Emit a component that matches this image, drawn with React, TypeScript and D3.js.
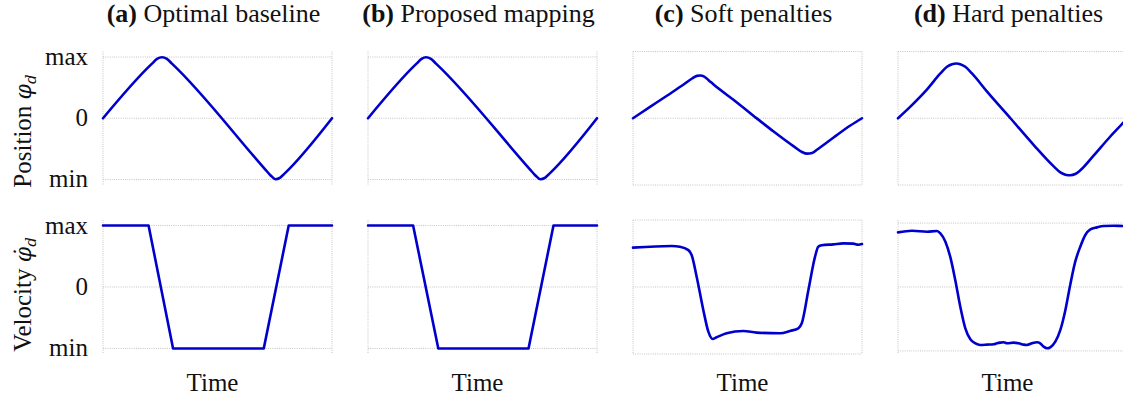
import React from "react";
import * as d3 from "d3";

// ---------- data (normalised: max = 1, min = -1, time 0..1) ----------
const titleTags = ["(a)", "(b)", "(c)", "(d)"];
const titleTexts = ["Optimal baseline", "Proposed mapping", "Soft penalties", "Hard penalties"];
const yTickValues = [1, 0, -1];
const yTickLabels = ["max", "0", "min"];
const xLabel = "Time";

type Pt = [number, number];

const posA: Pt[] = [
  [0, 0], [0.214, 0.892], [0.236, 0.968], [0.258, 0.995], [0.279, 0.968], [0.301, 0.892],
  [0.709, -0.838], [0.731, -0.93], [0.753, -0.995], [0.774, -0.968], [0.796, -0.892], [1, 0],
];
const velA: Pt[] = [
  [0, 1], [0.199, 1], [0.306, -1], [0.702, -1], [0.811, 1], [1, 1],
];
const posB: Pt[] = [
  [0, 0], [0.212, 0.892], [0.234, 0.968], [0.253, 0.995], [0.275, 0.968], [0.297, 0.892],
  [0.708, -0.838], [0.73, -0.93], [0.752, -0.995], [0.774, -0.968], [0.796, -0.892], [1, 0],
];
const velB: Pt[] = [
  [0, 1], [0.197, 1], [0.307, -1], [0.701, -1], [0.81, 1], [1, 1],
];
const posC: Pt[] = [
  [0, 0], [0.076, 0.189], [0.148, 0.368], [0.221, 0.551], [0.258, 0.649], [0.279, 0.692],
  [0.294, 0.697], [0.311, 0.681], [0.33, 0.622], [0.352, 0.551], [0.44, 0.297], [0.527, 0.038],
  [0.614, -0.216], [0.702, -0.459], [0.738, -0.551], [0.76, -0.578], [0.782, -0.568],
  [0.803, -0.514], [0.876, -0.314], [0.949, -0.119], [1, 0],
];
const velC: Pt[] = [
  [0, 0.64], [0.169, 0.667], [0.205, 0.656], [0.242, 0.6], [0.256, 0.52], [0.278, 0.168],
  [0.307, -0.374], [0.329, -0.726], [0.348, -0.846], [0.365, -0.818], [0.409, -0.753],
  [0.482, -0.715], [0.54, -0.743], [0.642, -0.753], [0.686, -0.715], [0.722, -0.672],
  [0.737, -0.591], [0.766, -0.049], [0.795, 0.493], [0.809, 0.656], [0.824, 0.678],
  [0.875, 0.694], [0.918, 0.71], [0.962, 0.705], [0.984, 0.688], [1, 0.699],
];
const posD: Pt[] = [
  [0, 0], [0.054, 0.19], [0.127, 0.472], [0.185, 0.732], [0.214, 0.84], [0.236, 0.883],
  [0.255, 0.894], [0.272, 0.883], [0.294, 0.84], [0.323, 0.732], [0.389, 0.434], [0.491, 0],
  [0.592, -0.434], [0.68, -0.786], [0.709, -0.883], [0.731, -0.921], [0.753, -0.932],
  [0.774, -0.911], [0.796, -0.851], [0.854, -0.612], [0.927, -0.298], [0.984, -0.07], [1, 0],
];
const velD: Pt[] = [
  [0, 0.889], [0.061, 0.916], [0.127, 0.9], [0.17, 0.911], [0.185, 0.873], [0.207, 0.737],
  [0.228, 0.493], [0.25, 0.114], [0.272, -0.32], [0.294, -0.672], [0.316, -0.851],
  [0.338, -0.916], [0.359, -0.943], [0.389, -0.938], [0.418, -0.932], [0.432, -0.916],
  [0.447, -0.905], [0.461, -0.9], [0.476, -0.916], [0.505, -0.905], [0.527, -0.916],
  [0.549, -0.938], [0.563, -0.943], [0.585, -0.916], [0.607, -0.9], [0.621, -0.916],
  [0.636, -0.97], [0.651, -0.997], [0.665, -0.981], [0.687, -0.889], [0.709, -0.699],
  [0.731, -0.374], [0.752, 0.033], [0.774, 0.412], [0.796, 0.656], [0.818, 0.846],
  [0.84, 0.938], [0.869, 0.97], [0.898, 0.992], [0.942, 0.997], [0.984, 0.992], [1, 0.992],
];

const positionSeries = [posA, posB, posC, posD];
const velocitySeries = [velA, velB, velC, velD];
// horizontal grid values per panel (top row / bottom row)
const posGrid = [[-1, 0, 1], [-1, 0, 1], [-1.09, 0, 1.09], [-1.09, 0, 1.09]];
const velGrid = [[-1, 0, 1], [-1, 0, 1], [-1.09, 0, 1.09], [-1.04, 0, 1.04]];

// ---------- layout ----------
const W = 1123;
const H = 402;
const panelX0 = 103;
const panelStep = 265;
const panelW = 229;
const rows = [
  { top: 51.5, bottom: 185 },
  { top: 220, bottom: 354 },
];
const yLim = 1.09;
const lineColor = "#0000cc";
const gridColor = "#c4c4c4";
const font = "'Liberation Serif', 'Times New Roman', serif";
const mathFont = "'DejaVu Serif', serif";

function Panel({ i, row, data, grid, curve }: { i: number; row: number; data: Pt[]; grid: number[]; curve: any }) {
  const x0 = panelX0 + i * panelStep;
  const x = d3.scaleLinear().domain([0, 1]).range([x0, x0 + panelW]);
  const y = d3.scaleLinear().domain([-yLim, yLim]).range([rows[row].bottom, rows[row].top]);
  const line = d3
    .line<Pt>()
    .x((d) => x(d[0]))
    .y((d) => y(d[1]))
    .curve(curve);
  return (
    <g>
      {grid.map((g, k) => (
        <line key={"h" + k} x1={x(0)} x2={x(1)} y1={y(g)} y2={y(g)} stroke={gridColor} strokeWidth={1} strokeDasharray="1 1.2" />
      ))}
      {[0, 1].map((t, k) => (
        <line key={"v" + k} x1={x(t)} x2={x(t)} y1={y(yLim)} y2={y(-yLim)} stroke={gridColor} strokeWidth={1} strokeDasharray="1 1.2" />
      ))}
      <path d={line(data) || ""} fill="none" stroke={lineColor} strokeWidth={2.6} strokeLinejoin="round" strokeLinecap="round" />
      {i === 0 &&
        yTickValues.map((v, k) => (
          <text key={"t" + k} x={88} y={y(v) + 8} textAnchor="end" fontSize={25} fontFamily={font} fill="#111">
            {yTickLabels[k]}
          </text>
        ))}
    </g>
  );
}

export default function App() {
  return (
    <svg width={W} height={H} style={{ position: "absolute", left: 0, top: 0, background: "#fff" }} fontFamily={font}>
      <rect width={W} height={H} fill="#fff" />
      {titleTags.map((tag, i) => {
        const cx = panelX0 + i * panelStep + panelW / 2 - 4;
        return (
          <text key={"title" + i} x={cx} y={22} textAnchor="middle" fontSize={26} fill="#111">
            <tspan fontWeight="bold">{tag}</tspan> {titleTexts[i]}
          </text>
        );
      })}
      {positionSeries.map((d, i) => (
        <Panel key={"p" + i} i={i} row={0} data={d} grid={posGrid[i]} curve={d3.curveMonotoneX} />
      ))}
      {velocitySeries.map((d, i) => (
        <Panel key={"v" + i} i={i} row={1} data={d} grid={velGrid[i]} curve={i < 2 ? d3.curveLinear : d3.curveMonotoneX} />
      ))}
      {titleTags.map((_, i) => (
        <text key={"xl" + i} x={panelX0 + i * panelStep + panelW / 2 - 5} y={390.5} textAnchor="middle" fontSize={25} fill="#111">
          {xLabel}
        </text>
      ))}
      <text transform="translate(31,131) rotate(-90)" textAnchor="middle" fontSize={25} fill="#111">
        Position <tspan fontStyle="italic" fontFamily={mathFont} fontSize={22}>{"\u03C6"}</tspan>
        <tspan fontStyle="italic" fontFamily={mathFont} fontSize={15} dy={5}>d</tspan>
      </text>
      <text transform="translate(31,294.5) rotate(-90)" textAnchor="middle" fontSize={25} fill="#111">
        Velocity <tspan fontStyle="italic" fontFamily={mathFont} fontSize={22}>{"\u03C6\u0307"}</tspan>
        <tspan fontStyle="italic" fontFamily={mathFont} fontSize={15} dy={5}>d</tspan>
      </text>
    </svg>
  );
}
